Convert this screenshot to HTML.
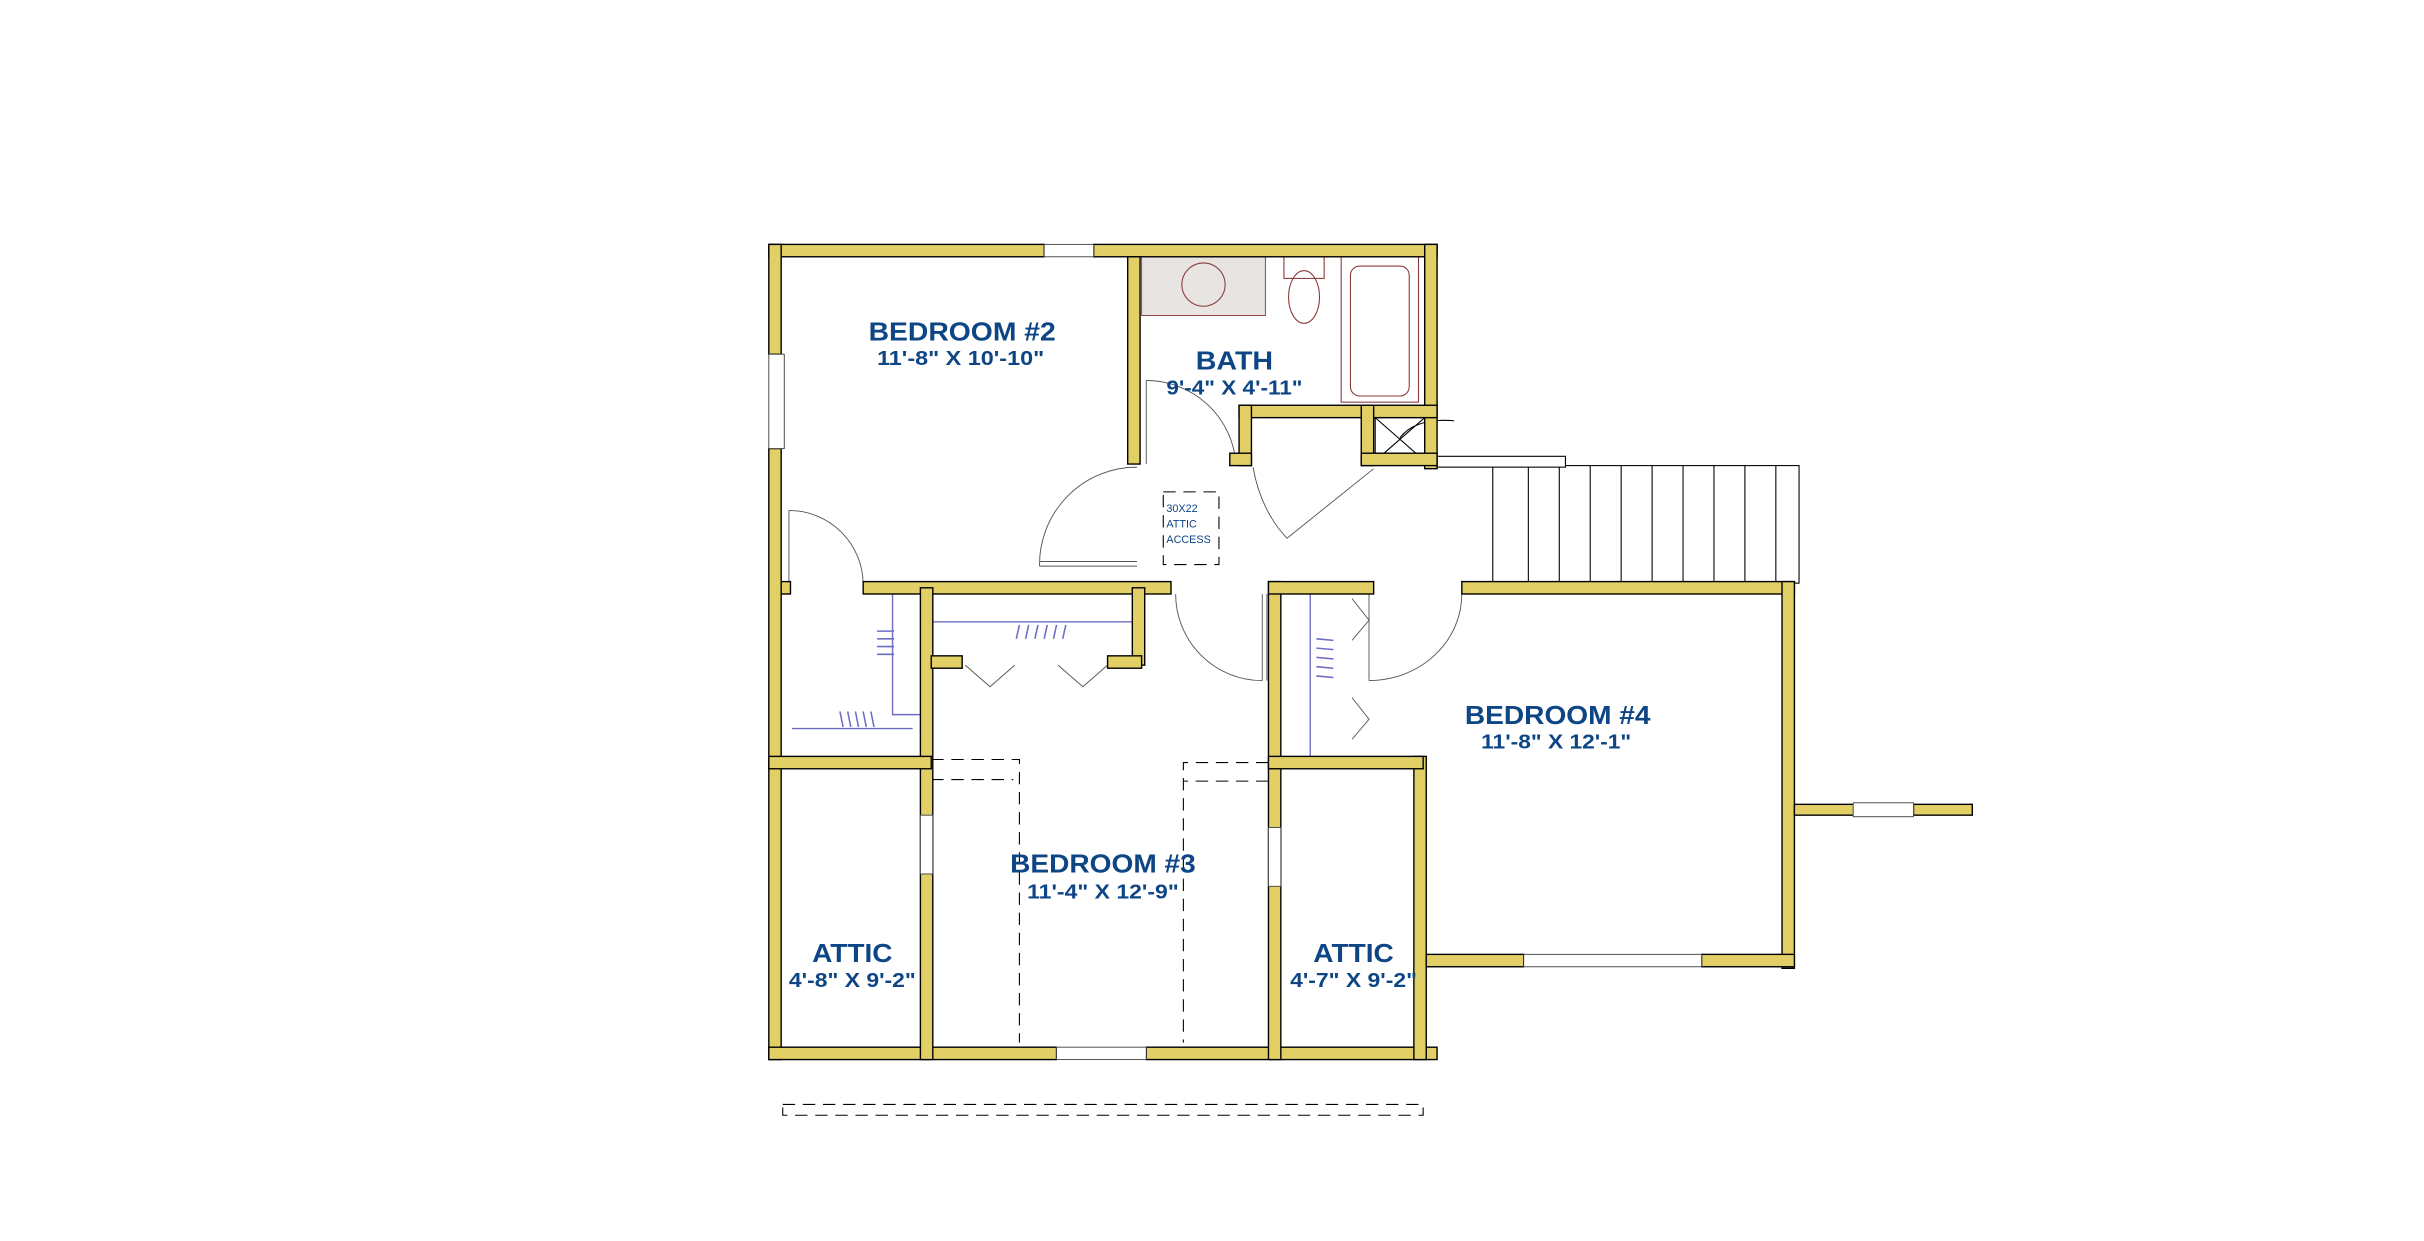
<!DOCTYPE html>
<html><head><meta charset="utf-8"><style>
html,body{margin:0;padding:0;background:#fff;}
svg{display:block;}
.w{fill:#E2D067;stroke:#000;stroke-width:0.9;}
.t{font-family:"Liberation Sans",sans-serif;font-weight:bold;fill:#0D4585;text-anchor:middle;}
.thin{fill:none;stroke:#555;stroke-width:0.6;}
.blk{fill:none;stroke:#000;stroke-width:0.7;}
.win{fill:#fff;stroke:#444;stroke-width:0.6;}
.rod{stroke:#6d6dc4;stroke-width:0.9;fill:none;}
.fx{fill:none;stroke:#8a3a3a;stroke-width:0.7;}
</style></head><body>
<svg width="2424" height="1241" viewBox="0 0 1567 802.3" preserveAspectRatio="none" xmlns="http://www.w3.org/2000/svg">
<rect width="1567" height="803" fill="#fff"/>
<!-- bath fixtures -->
<rect x="738" y="166" width="80" height="38" fill="#e8e4e2" stroke="#8a3a3a" stroke-width="0.6"/>
<circle cx="778" cy="184" r="14" class="fx"/>
<ellipse cx="843" cy="192" rx="10" ry="17" class="fx"/>
<rect x="830" y="166" width="26" height="14" class="fx"/>
<rect x="867" y="166" width="50" height="94" class="fx"/>
<rect x="873" y="172" width="38" height="84" rx="6" class="fx"/>
<!-- stairs -->
<rect x="965" y="301" width="198" height="76" class="blk"/>
<g class="blk">
<line x1="988" y1="301" x2="988" y2="377"/><line x1="1008" y1="301" x2="1008" y2="377"/><line x1="1028" y1="301" x2="1028" y2="377"/><line x1="1048" y1="301" x2="1048" y2="377"/><line x1="1068" y1="301" x2="1068" y2="377"/><line x1="1088" y1="301" x2="1088" y2="377"/><line x1="1108" y1="301" x2="1108" y2="377"/><line x1="1128" y1="301" x2="1128" y2="377"/><line x1="1148" y1="301" x2="1148" y2="377"/>
</g>
<rect x="926" y="295" width="86" height="7" fill="#fff" stroke="#000" stroke-width="0.7"/>
<!-- closet box X -->
<rect x="889" y="270" width="32" height="28" class="blk"/>
<line x1="889" y1="270" x2="921" y2="298" class="blk"/><line x1="921" y1="270" x2="889" y2="298" class="blk"/>
<path d="M905,283 Q915,270 940,272" class="blk"/>
<!-- dashed -->
<g fill="none" stroke="#000" stroke-width="0.7" stroke-dasharray="8,5">
<path d="M602,491 H659 V674"/><path d="M602,504 H655"/>
<path d="M820,493 H765 V674"/><path d="M820,505 H765"/>
<rect x="506" y="714" width="414" height="7"/>
<rect x="752" y="318" width="36" height="47"/>
</g>
<text x="754" y="331" font-family="Liberation Sans,sans-serif" font-size="7" fill="#0D4585">30X22</text>
<text x="754" y="341" font-family="Liberation Sans,sans-serif" font-size="7" fill="#0D4585">ATTIC</text>
<text x="754" y="351" font-family="Liberation Sans,sans-serif" font-size="7" fill="#0D4585">ACCESS</text>
<!-- closet rods -->
<g class="rod">
<polyline points="512,471 590,471"/><polyline points="577,384 577,462 595,462"/>
<line x1="602" y1="402" x2="732" y2="402"/>
<line x1="847" y1="384" x2="847" y2="489"/>
</g>
<g stroke="#6d6dc4" stroke-width="1">
<line x1="567" y1="408" x2="578" y2="408"/><line x1="567" y1="413" x2="578" y2="413"/><line x1="567" y1="418" x2="578" y2="418"/><line x1="567" y1="423" x2="578" y2="423"/>
<line x1="543" y1="460" x2="545" y2="470"/><line x1="548" y1="460" x2="550" y2="470"/><line x1="553" y1="460" x2="555" y2="470"/><line x1="558" y1="460" x2="560" y2="470"/><line x1="563" y1="460" x2="565" y2="470"/>
<line x1="659" y1="404" x2="657" y2="413"/><line x1="665" y1="404" x2="663" y2="413"/><line x1="671" y1="404" x2="669" y2="413"/><line x1="677" y1="404" x2="675" y2="413"/><line x1="683" y1="404" x2="681" y2="413"/><line x1="689" y1="404" x2="687" y2="413"/>
<line x1="851" y1="413" x2="862" y2="414"/><line x1="851" y1="419" x2="862" y2="420"/><line x1="851" y1="425" x2="862" y2="426"/><line x1="851" y1="431" x2="862" y2="432"/><line x1="851" y1="437" x2="862" y2="438"/>
</g>
<!-- doors -->
<g class="thin">
<path d="M672,366 A63,63 0 0 1 735,302"/><line x1="672" y1="366" x2="735" y2="366"/><line x1="672" y1="363" x2="735" y2="363"/>
<path d="M510,330 A48,48 0 0 1 558,378"/><line x1="510" y1="330" x2="510" y2="378"/>
<path d="M741,246 A58,58 0 0 1 799,300"/><line x1="741" y1="246" x2="741" y2="300"/>
<path d="M810,302 Q815,330 832,348 L888,303"/>
<path d="M760,384 A56,56 0 0 0 816,440"/><line x1="816" y1="384" x2="816" y2="440"/><line x1="819" y1="384" x2="819" y2="440"/>
<path d="M945,384 A60,56 0 0 1 885,440"/><line x1="885" y1="384" x2="885" y2="440"/>
<polyline points="624,430 640,444 656,430"/><polyline points="684,430 700,444 716,430"/>
<polyline points="874,387 885,401 874,414"/><polyline points="874,451 885,465 874,478"/>
</g>
<!-- walls -->
<g class="w">
<rect x="497" y="158" width="178" height="8"/><rect x="707" y="158" width="222" height="8"/>
<rect x="497" y="158" width="8" height="71"/><rect x="497" y="290" width="8" height="395"/>
<rect x="921" y="158" width="8" height="145"/>
<rect x="497" y="677" width="186" height="8"/><rect x="741" y="677" width="188" height="8"/>
<rect x="914" y="489" width="8" height="196"/>
<rect x="729" y="166" width="8" height="134"/>
<rect x="801" y="262" width="128" height="8"/><rect x="801" y="262" width="8" height="39"/><rect x="880" y="262" width="8" height="39"/><rect x="880" y="293" width="49" height="8"/><rect x="795" y="293" width="14" height="8"/>
<rect x="558" y="376" width="199" height="8"/><rect x="505" y="376" width="6" height="8"/>
<rect x="595" y="380" width="8" height="305"/>
<rect x="732" y="380" width="8" height="50"/><rect x="602" y="424" width="20" height="8"/><rect x="716" y="424" width="22" height="8"/>
<rect x="497" y="489" width="105" height="8"/>
<rect x="820" y="376" width="8" height="309"/><rect x="820" y="376" width="68" height="8"/><rect x="820" y="489" width="100" height="8"/>
<rect x="945" y="376" width="215" height="8"/><rect x="1152" y="376" width="8" height="250"/>
<rect x="922" y="617" width="63" height="8"/><rect x="1100" y="617" width="60" height="8"/>
<rect x="1160" y="520" width="40" height="7"/><rect x="1237" y="520" width="38" height="7"/>
</g>
<!-- windows -->
<g class="win">
<rect x="675" y="158" width="32" height="8"/><rect x="497" y="229" width="10" height="61"/>
<rect x="683" y="677" width="58" height="8"/><rect x="985" y="617" width="115" height="8"/>
<rect x="1198" y="519" width="39" height="9"/>
<rect x="595" y="527" width="8" height="38"/><rect x="820" y="535" width="8" height="38"/>
</g>
<!-- labels -->
<text class="t" x="622" y="220" font-size="17" textLength="121" lengthAdjust="spacingAndGlyphs">BEDROOM #2</text>
<text class="t" x="621" y="236" font-size="13" textLength="108" lengthAdjust="spacingAndGlyphs">11'-8" X 10'-10"</text>
<text class="t" x="798" y="239" font-size="17" textLength="50" lengthAdjust="spacingAndGlyphs">BATH</text>
<text class="t" x="798" y="255" font-size="13" textLength="88" lengthAdjust="spacingAndGlyphs">9'-4" X 4'-11"</text>
<text class="t" x="713" y="564" font-size="17" textLength="120" lengthAdjust="spacingAndGlyphs">BEDROOM #3</text>
<text class="t" x="713" y="581" font-size="13" textLength="98" lengthAdjust="spacingAndGlyphs">11'-4" X 12'-9"</text>
<text class="t" x="551" y="622" font-size="17" textLength="52" lengthAdjust="spacingAndGlyphs">ATTIC</text>
<text class="t" x="551" y="638" font-size="13" textLength="82" lengthAdjust="spacingAndGlyphs">4'-8" X 9'-2"</text>
<text class="t" x="875" y="622" font-size="17" textLength="52" lengthAdjust="spacingAndGlyphs">ATTIC</text>
<text class="t" x="875" y="638" font-size="13" textLength="82" lengthAdjust="spacingAndGlyphs">4'-7" X 9'-2"</text>
<text class="t" x="1007" y="468" font-size="17" textLength="120" lengthAdjust="spacingAndGlyphs">BEDROOM #4</text>
<text class="t" x="1006" y="484" font-size="13" textLength="97" lengthAdjust="spacingAndGlyphs">11'-8" X 12'-1"</text>
</svg>
</body></html>
